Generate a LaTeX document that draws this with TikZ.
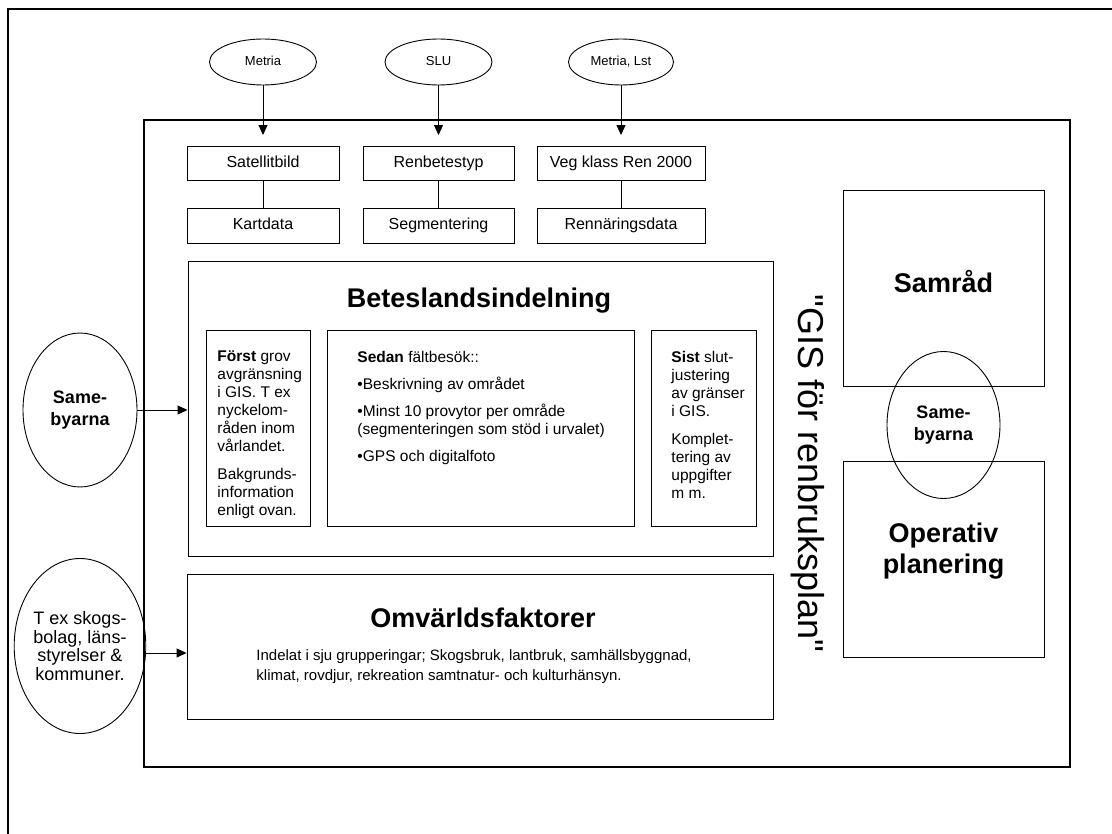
\documentclass[tikz,border=0pt]{standalone}
\usepackage{fontspec}
\setmainfont{Liberation Sans}
\usetikzlibrary{shapes.geometric,arrows.meta}
\newcommand{\fs}[2]{\fontsize{#1}{#2}\selectfont}
\begin{document}
\begin{tikzpicture}[x=1pt,y=-1pt,line width=0.9pt,
		src/.style={draw,ellipse,inner sep=0pt,minimum width=107pt,minimum height=46pt,text height=9.5pt,text depth=2.5pt,font=\fs{13}{16}},
		datbox/.style={draw,inner sep=0pt,minimum height=34pt,text height=11.5pt,text depth=3.5pt,font=\fs{16}{19}},
		pane/.style={draw,inner sep=0pt},
		txt/.style={inner sep=0pt,anchor=north west,align=left,font=\fs{15.5}{18}},
		hd/.style={inner sep=0pt,anchor=base,align=center,font=\fs{27}{31}\bfseries},
		who/.style={draw,ellipse,inner sep=0pt,minimum width=114pt,align=center,font=\fs{18}{22}},
		arr/.style={-{Triangle[length=10pt,width=9pt]}}]
				\useasboundingbox (0,0) rectangle (1112,834);
				\draw [line width=1.3pt] (8,834) -- (8,9) -- (1112,9);
				\draw [line width=1.3pt] (144,120) rectangle (1070,767);
				\node [src] (metria) at (263,62) {Metria};
				\node [src] (slu) at (438.5,62) {SLU};
				\node [src,minimum width=105pt] (lst) at (621,62) {Metria, Lst};
				\node [datbox,minimum width=152pt] (sat) at (263,163.5) {Satellitbild};
				\node [datbox,minimum width=151pt] (renb) at (438.5,163.5) {Renbetestyp};
				\node [datbox,minimum width=168pt] (veg) at (621,163.5) {Veg klass Ren 2000};
				\node [datbox,minimum width=152pt,minimum height=35pt] (kart) at (263,225.5) {Kartdata};
				\node [datbox,minimum width=151pt,minimum height=35pt] (segm) at (438.5,225.5) {Segmentering};
				\node [datbox,minimum width=168pt,minimum height=35pt] (rndata) at (621,225.5) {Rennäringsdata};
				\draw [arr,shorten >=11pt] (metria) -- (sat);
				\draw [arr,shorten >=11pt] (slu) -- (renb);
				\draw [arr,shorten >=11pt] (lst) -- (veg);
				\draw (sat) -- (kart);
				\draw (renb) -- (segm);
				\draw (veg) -- (rndata);
				\node [pane,minimum width=585pt,minimum height=295pt] (bete) at (480.5,408.5) {};
				\node [hd] (betehd) at (479,308) {Beteslandsindelning};
				\node [pane,minimum width=104pt,minimum height=196pt] (forst) at (258,428) {};
				\node [pane,minimum width=307pt,minimum height=196pt] (sedan) at (480.5,428) {};
				\node [pane,minimum width=105pt,minimum height=196pt] (sist) at (703.5,428) {};
				\node [txt] (forsttxt) at (217,350.5) {\textbf{Först} grov\\avgränsning\\i GIS. T ex\\nyckelom-\\råden inom\\vårlandet.\\[10pt]Bakgrunds-\\information\\enligt ovan.};
				\node [txt] (sedantxt) at (357,350.5) {\textbf{Sedan} fältbesök::\\[9pt]•Beskrivning av området\\[9pt]•Minst 10 provytor per område\\(segmenteringen som stöd i urvalet)\\[9pt]•GPS och digitalfoto};
				\node [txt] (sisttxt) at (671,350.5) {\textbf{Sist} slut-\\justering\\av gränser\\i GIS.\\[10pt]Komplet-\\tering av\\uppgifter\\m m.};
				\node [pane,minimum width=586pt,minimum height=145pt] (omv) at (480,646.5) {};
				\node [hd] (omvhd) at (483,627) {Omvärldsfaktorer};
				\node [txt,font=\fs{15}{20}] (omvtxt) at (256,649) {Indelat i sju grupperingar; Skogsbruk, lantbruk, samhällsbyggnad,\\klimat, rovdjur, rekreation samtnatur- och kulturhänsyn.};
				\node [who,minimum height=154pt,font=\fs{18}{22}\bfseries] (sameL) at (80,410) {Same-\\byarna};
				\node [who,minimum height=175pt,font=\fs{18}{18.5}] (tex) at (80,646) {T ex skogs-\\bolag, läns-\\styrelser \&\\kommuner.};
				\draw [arr] (sameL.east) -- (sameL.east -| bete.west);
				\draw [arr] ([yshift=-7pt]tex.east) -- ([yshift=-7pt]tex.east -| omv.west);
				\node [inner sep=0pt,rotate=-90,font=\fs{36}{40}] (gis) at (808,473.5) {\textquotedbl GIS för renbruksplan\textquotedbl};
				\node [pane,minimum width=201pt,minimum height=196pt] (samrad) at (943.5,288) {};
				\node [hd] (samradhd) at (943.5,293) {Samråd};
				\node [pane,minimum width=201pt,minimum height=196pt] (oper) at (943.5,559) {};
				\node [hd] (operhd) at (943.5,573) {Operativ\\planering};
				\node [who,minimum width=113pt,minimum height=147pt,font=\fs{18}{22}\bfseries] (sameR) at (943.5,425) {Same-\\byarna};
			\end{tikzpicture}
\end{document}
